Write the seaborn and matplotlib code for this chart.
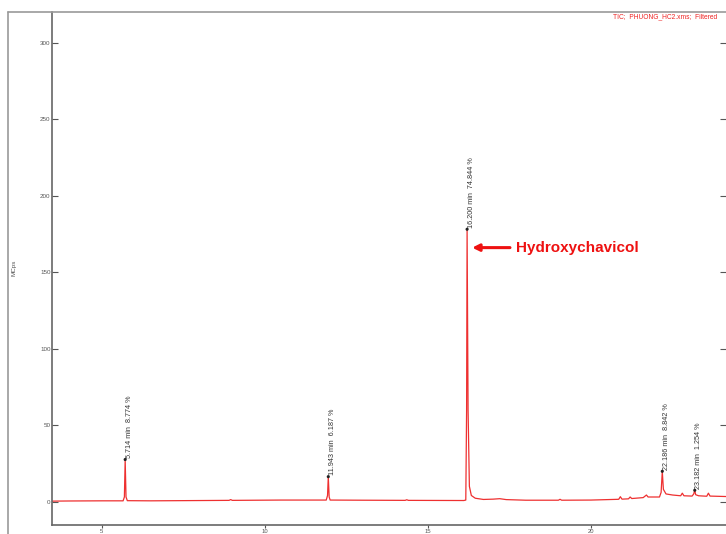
import numpy as np
import pandas as pd
import matplotlib
matplotlib.use("Agg")
import matplotlib.pyplot as plt
from matplotlib.lines import Line2D
import seaborn as sns

tempo = [3.47, 4.0, 5.0, 5.65, 5.69, 5.714, 5.74, 5.78, 6.5, 8.9, 8.95, 9.0,
         10.5, 11.88, 11.92, 11.943, 11.97, 12.0, 13.0, 14.3, 14.35, 14.4,
         16.1, 16.16, 16.185, 16.2, 16.23, 16.27, 16.33, 16.45, 16.7, 17.0,
         17.2, 17.4, 18.0, 19.0, 19.05, 19.1, 20.0, 20.85, 20.9, 20.95, 21.15,
         21.2, 21.25, 21.6, 21.7, 21.75, 22.1, 22.15, 22.186, 22.22, 22.3,
         22.5, 22.75, 22.8, 22.85, 23.1, 23.15, 23.182, 23.21, 23.3, 23.55,
         23.6, 23.65, 24.15]
intensidade = [0.3, 0.4, 0.5, 0.5, 3.0, 27.5, 3.0, 0.6, 0.5, 0.8, 1.3, 0.8,
               1.0, 1.0, 4.0, 16.3, 3.0, 1.0, 0.9, 0.8, 1.2, 0.8,
               0.7, 1.0, 60.0, 178.0, 60.0, 10.0, 4.0, 2.2, 1.4, 1.6,
               1.9, 1.3, 0.9, 0.9, 1.5, 0.9, 1.0, 1.5, 3.2, 1.6, 1.8,
               3.0, 2.0, 2.6, 4.3, 3.0, 3.0, 6.0, 19.8, 8.0, 5.0,
               4.3, 3.8, 5.5, 3.8, 3.6, 5.0, 7.4, 4.5, 3.8, 3.5,
               5.5, 3.6, 3.3]

# picos identificados
pico_rt = [5.714, 11.943, 16.200, 22.186, 23.182]
pico_altura = [27.5, 16.3, 178.0, 19.8, 7.4]
pico_area = [8.774, 6.187, 74.844, 8.842, 1.254]

y_ticks = [0, 50, 100, 150, 200, 250, 300]
x_ticks = [5, 10, 15, 20]

df = pd.DataFrame({"tempo": tempo, "MCps": intensidade})
picos = pd.DataFrame({"rt": pico_rt, "altura": pico_altura, "area": pico_area})

sns.set_style("white")
plt.rcParams["font.family"] = ["Liberation Sans", "DejaVu Sans"]

fig = plt.figure(figsize=(7.26, 5.34), dpi=100)
# eixo ocupa do x=52 px até a borda direita, do y=12 px até y=525 px
ax = fig.add_axes([52 / 726, 1 - 525 / 534, 1 - 52 / 726, (525 - 12) / 534])

sns.lineplot(data=df, x="tempo", y="MCps", ax=ax, color="#ee3030",
             linewidth=0.9, estimator=None, sort=False)
sns.scatterplot(data=picos, x="rt", y="altura", ax=ax, color="#222222",
                s=5, marker="o", edgecolor="none", zorder=5)

for _, p in picos.iterrows():
    ax.annotate(f"{p['rt']:.3f} min  {p['area']:.3f} %", (p["rt"], p["altura"]),
                xytext=(3, 1), textcoords="offset points", rotation=90,
                ha="center", va="bottom", fontsize=5.2, color="#333333")

# seta e nome do composto principal
ax.annotate("", xy=(16.27, 166), xytext=(17.6, 166),
            arrowprops=dict(arrowstyle="-|>", color="#ee1111", lw=2.2,
                            mutation_scale=10))
ax.text(17.7, 166, "Hydroxychavicol", color="#ee1111", fontsize=11,
        fontweight="bold", ha="left", va="center")

ax.set_xlim(3.47, 24.14)
ax.set_ylim(-15.3, 320)
ax.set_xticks(x_ticks)
ax.set_yticks(y_ticks)
ax.set_xticklabels([str(v) for v in x_ticks], fontsize=4.2, color="#555555")
ax.set_yticklabels([str(v) for v in y_ticks], fontsize=4.5, color="#555555")
ax.tick_params(axis="y", which="both", left=True, direction="out",
               length=4, width=0.8, color="#555555", pad=1)
ax.tick_params(axis="y", right=True, direction="in", length=4, width=0.8,
               color="#555555")
ax.tick_params(axis="x", bottom=True, direction="out", length=2.5, width=0.8,
               color="#555555", pad=0.5)
ax.set_xlabel("")
ax.set_ylabel("")
for lado in ["top", "right"]:
    ax.spines[lado].set_visible(False)
for lado in ["left", "bottom"]:
    ax.spines[lado].set_color("#666666")
    ax.spines[lado].set_linewidth(1.2)

# moldura externa
fig.add_artist(Line2D([8 / 726, 1], [1 - 12 / 534] * 2, color="#999999", lw=1.2))
fig.add_artist(Line2D([8 / 726] * 2, [0, 1 - 12 / 534], color="#999999", lw=1.2))

fig.text(14 / 726, 1 - 268 / 534, "MCps", rotation=90, fontsize=4.5,
         color="#555555", ha="center", va="center")
fig.text(717 / 726, 1 - 17 / 534, "TIC;  PHUONG_HC2.xms;  Filtered", fontsize=4.8,
         color="#ee2222", ha="right", va="center")

fig.savefig("out.png", dpi=100)
plt.close(fig)
